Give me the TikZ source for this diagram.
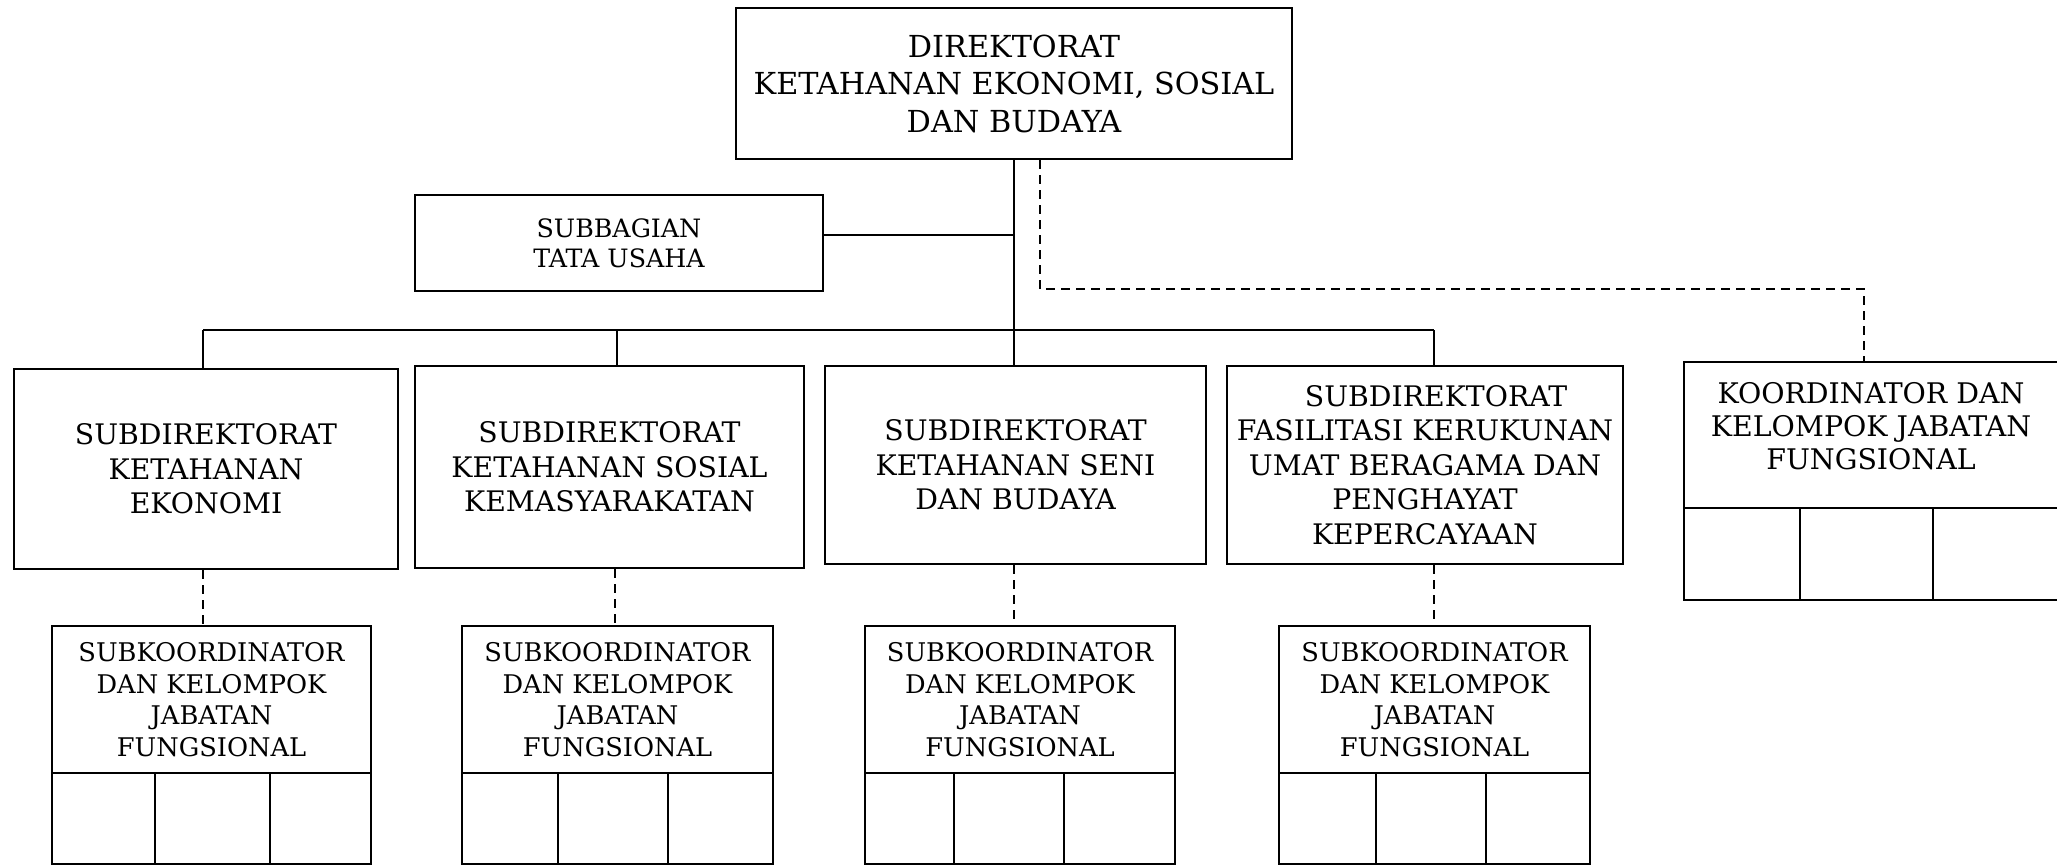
\documentclass[tikz,border=0pt]{standalone}
\usepackage{fontspec}
\setmainfont{DejaVu Serif}
\begin{document}
\begin{tikzpicture}[x=1pt,y=-1pt,line width=2pt,
  box/.style={draw,rectangle,inner sep=0pt,align=center,line width=2pt},
  cell/.style={draw,rectangle,inner sep=0pt,line width=2pt,minimum height=91pt},
  dashln/.style={dash pattern=on 9pt off 6pt,line width=2pt},
  fdir/.style={font=\fontsize{30.3}{37.5}\selectfont},
  fsd/.style={font=\fontsize{28.3}{34.4}\selectfont},
  fsk/.style={font=\fontsize{25.7}{31.5}\selectfont},
  fsb/.style={font=\fontsize{25.3}{30}\selectfont},
  fko/.style={font=\fontsize{28.4}{33}\selectfont}]
\useasboundingbox (0,0) rectangle (2057,865);

% Direktorat
\node[box,fdir,minimum width=556pt,minimum height=151pt] (dir) at (1014,83.5)
  {DIREKTORAT\\KETAHANAN EKONOMI, SOSIAL\\DAN BUDAYA};
% Subbagian
\node[box,fsb,minimum width=408pt,minimum height=96pt] (sb) at (619,243)
  {SUBBAGIAN\\TATA USAHA};

% Subdirektorat
\node[box,fsd,minimum width=384pt,minimum height=200pt] (sd1) at (206,469)
  {SUBDIREKTORAT\\KETAHANAN\\EKONOMI};
\node[box,fsd,minimum width=389pt,minimum height=202pt] (sd2) at (609.5,467)
  {SUBDIREKTORAT\\KETAHANAN SOSIAL\\KEMASYARAKATAN};
\node[box,fsd,minimum width=381pt,minimum height=198pt] (sd3) at (1015.5,465)
  {SUBDIREKTORAT\\KETAHANAN SENI\\DAN BUDAYA};
\node[box,fsd,minimum width=396pt,minimum height=198pt] (sd4) at (1425,465)
  {\hspace*{22pt}SUBDIREKTORAT\\FASILITASI KERUKUNAN\\UMAT BERAGAMA DAN\\PENGHAYAT\\KEPERCAYAAN};

% Subkoordinator boxes
\node[box,fsk,minimum width=319pt,minimum height=147pt] (sk1) at (211.5,699.5)
  {SUBKOORDINATOR\\DAN KELOMPOK\\JABATAN\\FUNGSIONAL};
\node[cell,minimum width=103pt] (sk1a) at (103.5,818.5) {};
\node[cell,minimum width=115pt] (sk1b) at (212.5,818.5) {};
\node[cell,minimum width=101pt] (sk1c) at (320.5,818.5) {};

\node[box,fsk,minimum width=311pt,minimum height=147pt] (sk2) at (617.5,699.5)
  {SUBKOORDINATOR\\DAN KELOMPOK\\JABATAN\\FUNGSIONAL};
\node[cell,minimum width=96pt] (sk2a) at (510,818.5) {};
\node[cell,minimum width=110pt] (sk2b) at (613,818.5) {};
\node[cell,minimum width=105pt] (sk2c) at (720.5,818.5) {};

\node[box,fsk,minimum width=310pt,minimum height=147pt] (sk3) at (1020,699.5)
  {SUBKOORDINATOR\\DAN KELOMPOK\\JABATAN\\FUNGSIONAL};
\node[cell,minimum width=89pt] (sk3a) at (909.5,818.5) {};
\node[cell,minimum width=110pt] (sk3b) at (1009,818.5) {};
\node[cell,minimum width=111pt] (sk3c) at (1119.5,818.5) {};

\node[box,fsk,minimum width=311pt,minimum height=147pt] (sk4) at (1434.5,699.5)
  {SUBKOORDINATOR\\DAN KELOMPOK\\JABATAN\\FUNGSIONAL};
\node[cell,minimum width=97pt] (sk4a) at (1327.5,818.5) {};
\node[cell,minimum width=110pt] (sk4b) at (1431,818.5) {};
\node[cell,minimum width=104pt] (sk4c) at (1538,818.5) {};

% Koordinator
\node[box,minimum width=378pt,minimum height=146pt] (ko) at (1873,435) {};
\node[fko,align=center,inner sep=0pt] (kotext) at (1871,426)
  {KOORDINATOR DAN\\KELOMPOK JABATAN\\FUNGSIONAL};
\node[cell,minimum width=116pt,minimum height=92pt] (koa) at (1742,554) {};
\node[cell,minimum width=133pt,minimum height=92pt] (kob) at (1866.5,554) {};
\node[cell,minimum width=129pt,minimum height=92pt] (koc) at (1997.5,554) {};

% Solid connectors
\coordinate (b1) at (203,330);
\coordinate (b2) at (617,330);
\coordinate (b4) at (1434,330);
\coordinate (sbj) at (1014,235);
\draw (dir.south) -- (dir.south |- sd3.north);
\draw (sbj -| sb.east) -- (sbj);
\draw (b1) -- (b4);
\draw (b1) -- (b1 |- sd1.north);
\draw (b2) -- (b2 |- sd2.north);
\draw (b4) -- (b4 |- sd4.north);

% Dashed connectors
\coordinate (dk1) at (1040,289);
\coordinate (dk2) at (1864,289);
\draw[dashln] (dk1 |- dir.south) -- (dk1) -- (dk2) -- (dk2 |- ko.north);
\draw[dashln] (b1 |- sd1.south) -- (b1 |- sk1.north);
\draw[dashln] ([xshift=-2pt]b2 |- sd2.south) -- ([xshift=-2pt]b2 |- sk2.north);
\draw[dashln] (dir.south |- sd3.south) -- (dir.south |- sk3.north);
\draw[dashln] (b4 |- sd4.south) -- (b4 |- sk4.north);
\end{tikzpicture}
\end{document}
